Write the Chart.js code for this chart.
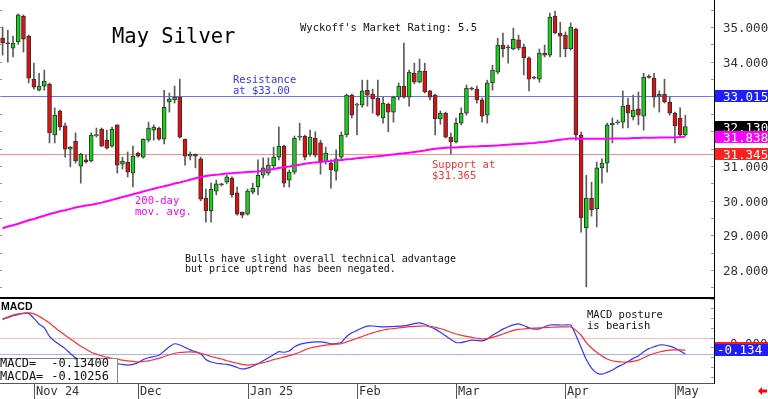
<!DOCTYPE html>
<html><head><meta charset="utf-8">
<script src="https://cdn.jsdelivr.net/npm/chart.js@4/dist/chart.umd.min.js"></script>
<style>
html,body{margin:0;padding:0;background:#fff;width:768px;height:399px;overflow:hidden;}
#wrap{position:relative;width:768px;height:399px;background:#fff;}
canvas{position:absolute;left:0;display:block;}
#main{top:0;}
#macd{top:297px;}
</style></head><body>
<div id="wrap"><canvas id="main" width="768" height="297"></canvas><canvas id="macd" width="768" height="102"></canvas></div>
<script>
// ---------- data ----------
const opens = [34.68,34.54,34.39,34.57,35.32,34.74,33.50,33.18,33.30,33.36,
31.89,32.58,32.15,31.48,31.71,30.99,31.17,31.14,31.86,32.06,
31.74,31.57,32.18,31.05,31.11,30.79,31.37,31.25,31.74,32.03,
32.09,31.77,32.84,32.90,32.98,31.77,31.28,31.34,31.20,30.07,
29.70,30.27,30.48,30.53,30.65,30.22,29.67,29.61,30.24,30.39,
30.73,30.79,31.00,31.25,31.57,30.59,30.82,31.83,31.86,31.34,
31.80,31.66,31.11,31.08,30.85,31.25,31.89,33.04,32.75,32.75,
33.18,33.07,32.95,32.38,32.78,32.55,32.98,33.30,32.98,33.67,
33.41,33.73,33.16,33.04,32.35,32.52,31.83,31.69,32.23,32.52,
33.24,33.21,32.90,32.46,33.39,33.70,34.48,34.42,34.37,34.63,
34.42,34.11,33.55,33.50,34.25,34.19,35.32,34.83,34.77,34.37,
34.94,31.89,29.21,30.07,29.76,30.94,31.08,32.18,32.24,32.26,
32.75,32.41,32.64,32.43,33.58,33.53,33.01,33.07,32.84,32.52,
32.38,31.89];
const highs = [35.00,34.91,34.74,35.38,35.35,34.77,33.96,33.67,33.76,33.39,
32.67,32.61,32.23,31.56,31.95,31.36,31.31,31.95,32.09,32.09,
32.03,32.12,32.18,31.25,31.40,31.57,31.40,31.78,32.26,32.18,
32.12,33.18,33.10,33.30,33.50,31.77,31.40,31.34,31.25,30.33,
30.50,30.59,30.50,30.73,30.68,30.39,29.67,30.33,30.50,31.17,
31.23,31.23,31.54,32.12,31.60,30.88,31.86,32.23,31.89,32.03,
31.98,31.74,31.54,31.17,31.46,31.98,33.07,33.07,32.81,33.47,
33.47,33.21,33.47,32.98,32.81,33.01,33.39,34.54,33.76,33.96,
34.08,33.96,33.18,33.07,32.58,32.55,31.95,32.38,32.67,33.33,
33.27,33.30,32.95,33.47,33.90,34.68,34.83,34.48,34.97,34.77,
34.51,34.14,33.58,34.37,34.48,35.40,35.46,35.14,34.86,35.12,
34.97,31.97,30.73,30.53,31.11,31.20,32.23,32.38,32.32,33.16,
32.95,33.04,33.13,33.67,33.62,33.67,33.16,33.50,32.98,32.55,
32.67,32.46];
const lows = [34.19,33.99,34.14,34.50,34.28,33.39,33.21,33.16,33.18,31.66,
31.66,32.03,31.25,30.97,31.08,30.50,31.08,31.11,31.83,31.55,
31.48,31.54,30.79,30.91,30.68,30.39,31.25,31.22,31.69,31.74,
31.74,31.63,32.55,32.81,31.80,31.02,31.17,30.94,29.99,29.38,
29.38,30.16,30.42,30.48,30.10,29.58,29.50,29.58,30.19,30.16,
30.65,30.73,30.94,31.17,30.39,30.39,30.76,31.74,31.17,31.28,
31.25,30.76,31.05,30.36,30.59,31.17,31.83,32.38,31.89,32.69,
32.72,32.52,32.43,32.23,31.98,32.26,32.90,32.95,32.72,33.36,
33.39,33.10,32.90,31.89,32.20,31.80,31.34,31.66,32.18,32.46,
33.18,32.81,32.26,32.23,33.18,33.65,34.14,33.96,34.34,34.34,
33.62,33.16,33.50,33.41,34.14,34.14,34.80,34.14,34.14,34.34,
31.74,29.09,27.51,29.55,29.24,30.50,30.82,31.66,32.20,32.09,
32.09,32.32,32.18,32.03,33.53,32.69,32.55,32.81,32.46,31.66,
31.86,31.86];
const closes = [34.54,34.52,34.54,35.35,34.65,33.53,33.27,33.30,33.44,31.95,
32.46,32.12,31.48,31.54,31.14,31.34,31.11,31.89,31.90,31.57,
31.51,32.06,31.02,31.14,30.82,31.28,31.28,31.77,32.09,32.12,
31.77,32.69,32.93,32.98,31.83,31.28,31.34,31.28,30.04,29.70,
30.33,30.48,30.45,30.68,30.16,29.61,29.58,30.27,30.36,30.73,
30.94,31.02,31.25,31.57,30.50,30.82,31.80,31.86,31.25,31.83,
31.31,31.11,31.37,30.88,31.20,31.89,33.04,32.46,32.78,33.16,
33.04,32.93,32.46,32.81,32.55,32.98,33.30,32.98,33.70,33.41,
33.73,33.13,32.98,32.35,32.52,31.83,31.69,32.23,32.52,33.24,
33.21,32.90,32.43,33.39,33.76,34.48,34.37,34.40,34.65,34.39,
34.11,33.50,33.53,34.25,34.19,35.29,34.83,34.74,34.37,35.00,
31.89,29.50,30.07,29.73,30.94,31.08,32.18,32.23,32.27,32.72,
32.52,32.61,32.46,33.56,33.55,32.98,33.07,32.84,32.52,32.15,
31.89,32.13];
const ma200 = [29.20,29.25,29.29,29.33,29.38,29.43,29.47,29.52,29.56,29.61,
29.65,29.69,29.72,29.76,29.80,29.83,29.86,29.88,29.91,29.94,
29.98,30.02,30.06,30.10,30.14,30.18,30.22,30.26,30.30,30.34,
30.38,30.41,30.45,30.49,30.52,30.56,30.60,30.64,30.68,30.71,
30.73,30.74,30.76,30.78,30.79,30.80,30.81,30.82,30.83,30.84,
30.86,30.89,30.91,30.94,30.96,30.98,31.01,31.03,31.06,31.08,
31.10,31.11,31.13,31.14,31.16,31.17,31.19,31.20,31.22,31.23,
31.25,31.26,31.28,31.29,31.31,31.33,31.35,31.36,31.38,31.40,
31.42,31.44,31.47,31.49,31.51,31.52,31.53,31.53,31.54,31.55,
31.56,31.56,31.57,31.57,31.58,31.59,31.60,31.61,31.62,31.63,
31.64,31.65,31.66,31.68,31.69,31.71,31.73,31.75,31.77,31.79,
31.79,31.78,31.78,31.78,31.78,31.78,31.78,31.79,31.79,31.79,
31.79,31.80,31.80,31.81,31.81,31.81,31.82,31.82,31.82,31.82,
31.83,31.838];
const macdLine = [0.150,0.165,0.180,0.190,0.200,0.200,0.160,0.110,0.080,0.010,
-0.030,-0.060,-0.090,-0.130,-0.165,-0.190,-0.220,-0.240,-0.250,-0.250,
-0.240,-0.225,-0.215,-0.220,-0.225,-0.220,-0.205,-0.180,-0.165,-0.155,
-0.145,-0.110,-0.075,-0.050,-0.060,-0.080,-0.100,-0.115,-0.130,-0.180,
-0.200,-0.210,-0.215,-0.220,-0.230,-0.245,-0.257,-0.250,-0.235,-0.215,
-0.190,-0.165,-0.140,-0.115,-0.120,-0.110,-0.075,-0.055,-0.045,-0.038,
-0.035,-0.035,-0.040,-0.050,-0.048,-0.040,0.010,0.040,0.060,0.080,
0.095,0.096,0.092,0.088,0.090,0.092,0.095,0.097,0.105,0.115,
0.121,0.110,0.090,0.070,0.045,0.015,-0.015,-0.040,-0.040,-0.030,
-0.020,-0.022,-0.027,-0.010,0.020,0.045,0.070,0.090,0.105,0.113,
0.100,0.080,0.070,0.072,0.090,0.104,0.105,0.104,0.104,0.104,
0.020,-0.080,-0.180,-0.250,-0.290,-0.300,-0.285,-0.265,-0.240,-0.220,
-0.195,-0.170,-0.150,-0.115,-0.090,-0.075,-0.060,-0.060,-0.070,-0.085,
-0.110,-0.134];
const macdAvg = [0.154,0.170,0.185,0.195,0.200,0.203,0.195,0.175,0.150,0.120,
0.085,0.050,0.020,-0.010,-0.040,-0.070,-0.095,-0.120,-0.135,-0.150,
-0.160,-0.170,-0.175,-0.185,-0.190,-0.195,-0.200,-0.195,-0.190,-0.180,
-0.170,-0.155,-0.140,-0.130,-0.122,-0.118,-0.117,-0.120,-0.130,-0.140,
-0.155,-0.165,-0.175,-0.190,-0.200,-0.210,-0.220,-0.225,-0.222,-0.215,
-0.205,-0.195,-0.180,-0.170,-0.160,-0.148,-0.135,-0.120,-0.100,-0.085,
-0.076,-0.068,-0.062,-0.057,-0.053,-0.050,-0.035,-0.020,-0.005,0.010,
0.025,0.040,0.052,0.063,0.070,0.075,0.080,0.085,0.090,0.093,
0.095,0.096,0.093,0.085,0.075,0.060,0.045,0.030,0.020,0.010,
0.003,-0.005,-0.011,-0.008,0.003,0.015,0.030,0.045,0.060,0.068,
0.072,0.075,0.078,0.080,0.083,0.085,0.087,0.088,0.088,0.088,
0.060,0.020,-0.040,-0.085,-0.120,-0.150,-0.175,-0.190,-0.197,-0.200,
-0.200,-0.195,-0.185,-0.165,-0.145,-0.130,-0.118,-0.108,-0.102,-0.100,
-0.101,-0.10256];
const monthTickIndex = [6,26,47,68,87,108,129];
const monthTickLabels = ["Nov 24","Dec","Jan 25","Feb","Mar","Apr","May"];
const priceTicks = [28,29,30,31,32,33,34,35];
const resistance = 33.015;
const support = 31.345;
const padSlots = 5;
const labels = closes.map((_, i) => 'd' + i).concat(Array.from({length: padSlots}, (_, k) => 'p' + k));

// ---------- helpers ----------
const MONO = '"DejaVu Sans Mono", monospace';
function hline(ctx, x0, x1, yy, color, w) {
  ctx.strokeStyle = color; ctx.lineWidth = w || 1;
  ctx.beginPath(); ctx.moveTo(x0, Math.round(yy) + 0.5); ctx.lineTo(x1, Math.round(yy) + 0.5); ctx.stroke();
}
function txt(ctx, s, x, y, font, color, align) {
  ctx.font = font; ctx.fillStyle = color; ctx.textAlign = align || 'left'; ctx.textBaseline = 'alphabetic';
  ctx.fillText(s, x, y);
}

const bodies = opens.map((o, i) => [o, closes[i]]);
const wicks = lows.map((l, i) => [l, highs[i]]);
const bodyColors = opens.map((o, i) => closes[i] >= o ? '#14d214' : '#e01010');

const mainDeco = {
  id: 'mainDeco',
  beforeDatasetsDraw(chart) {
    const {ctx, chartArea: a, scales: {y}} = chart;
    ctx.save();
    hline(ctx, a.left, a.right, y.getPixelForValue(resistance), '#6e6eff');
    hline(ctx, a.left, a.right, y.getPixelForValue(support), '#ff8888');
    ctx.restore();
  },
  afterDraw(chart) {
    const {ctx, chartArea: a, scales: {y}} = chart;
    ctx.save();
    // axis line
    ctx.fillStyle = '#000'; ctx.fillRect(a.right, 0, 1, a.bottom);
    // minor ticks
    ctx.fillStyle = '#999';
    for (let v = 27.5; v <= 35.6; v += 0.5) {
      const yy = Math.round(y.getPixelForValue(v));
      ctx.fillRect(a.right - 3, yy, 3, 1);
      ctx.fillRect(0, yy, 2, 1);
    }
    // tick labels
    priceTicks.forEach(v => {
      txt(ctx, v.toFixed(3), a.right + 9, y.getPixelForValue(v) + 5, '12.5px ' + MONO, '#333');
    });
    // value boxes
    const boxes = [
      {v: resistance, bg: '#1e1eff'},
      {v: closes[closes.length - 1], bg: '#000'},
      {v: ma200[ma200.length - 1], bg: '#ff00ff'},
      {v: support, bg: '#ff2020'}
    ];
    boxes.forEach(b => {
      const yy = Math.round(y.getPixelForValue(b.v));
      ctx.fillStyle = b.bg; ctx.fillRect(a.right + 1, yy - 6, 768 - a.right - 1, 12);
      txt(ctx, b.v.toFixed(3), a.right + 9, yy + 5, '12.5px ' + MONO, '#fff');
    });
    // annotations
    txt(ctx, 'May Silver', 112, 43, '20.5px ' + MONO, '#000');
    txt(ctx, "Wyckoff's Market Rating: 5.5", 300, 31, '10.5px ' + MONO, '#111');
    const ry = y.getPixelForValue(resistance);
    txt(ctx, 'Resistance', 233, ry - 13, '10.5px ' + MONO, '#3434ff');
    txt(ctx, 'at $33.00', 233, ry - 2, '10.5px ' + MONO, '#3434ff');
    const sy = y.getPixelForValue(support);
    txt(ctx, 'Support at', 432, sy + 14, '10.5px ' + MONO, '#ff3030');
    txt(ctx, '$31.365', 432, sy + 25, '10.5px ' + MONO, '#ff3030');
    txt(ctx, '200-day', 135, 204, '10.5px ' + MONO, '#ff00ff');
    txt(ctx, 'mov. avg.', 135, 215, '10.5px ' + MONO, '#ff00ff');
    txt(ctx, 'Bulls have slight overall technical advantage', 185, 262, '10px ' + MONO, '#111');
    txt(ctx, 'but price uptrend has been negated.', 185, 272, '10px ' + MONO, '#111');
    ctx.restore();
  }
};

new Chart(document.getElementById('main'), {
  type: 'bar',
  data: {
    labels: labels,
    datasets: [
      {type: 'line', data: ma200, borderColor: '#ff00ff', borderWidth: 2, pointRadius: 0, tension: 0, order: 0},
      {type: 'bar', data: bodies, backgroundColor: bodyColors, borderColor: '#303030', borderWidth: 1,
       borderSkipped: false, barThickness: 4, grouped: false, minBarLength: 1, order: 1},
      {type: 'bar', data: wicks, backgroundColor: '#5c5c5c', barThickness: 1, grouped: false, order: 2}
    ]
  },
  options: {
    responsive: false, animation: false, devicePixelRatio: 1,
    layout: {padding: {left: 0, right: 54, top: 0, bottom: 0}},
    plugins: {legend: {display: false}, tooltip: {enabled: false}},
    scales: {
      x: {display: false, offset: true},
      y: {display: false, min: 27.22, max: 35.78}
    }
  },
  plugins: [mainDeco]
});

const macdDeco = {
  id: 'macdDeco',
  beforeDatasetsDraw(chart) {
    const {ctx, chartArea: a, scales: {y}} = chart;
    ctx.save();
    hline(ctx, a.left, a.right, y.getPixelForValue(0), '#ffbcbc');
    hline(ctx, a.left, a.right, y.getPixelForValue(macdLine[macdLine.length - 1]), '#aab0ff');
    ctx.restore();
  },
  afterDraw(chart) {
    const {ctx, chartArea: a, scales: {x, y}} = chart;
    const H = chart.height;
    ctx.save();
    ctx.fillStyle = '#000'; ctx.fillRect(0, 0, a.right, 2);
    ctx.fillStyle = '#555'; ctx.fillRect(0, a.bottom, a.right + 1, 1);
    ctx.fillStyle = '#000'; ctx.fillRect(a.right, 0, 1, a.bottom + 1);
    ctx.fillStyle = '#999';
    for (let v = -0.32; v <= 0.33; v += 0.08) {
      ctx.fillRect(a.right - 3, Math.round(y.getPixelForValue(v)), 3, 1);
    }
    txt(ctx, 'MACD', 1, 13, 'bold 10.5px "Liberation Sans", Arial, sans-serif', '#000');
    // info box
    ctx.fillStyle = '#fff'; ctx.fillRect(0, 61, 117, a.bottom - 61);
    ctx.fillStyle = '#888'; ctx.fillRect(0, 61, 118, 1); ctx.fillRect(117, 61, 1, a.bottom - 61);
    const f12 = '12px ' + MONO;
    txt(ctx, 'MACD=', 0, 70, f12, '#111');
    txt(ctx, macdLine[macdLine.length - 1].toFixed(5), 109, 70, f12, '#111', 'right');
    txt(ctx, 'MACDA=', 0, 83, f12, '#111');
    txt(ctx, macdAvg[macdAvg.length - 1].toFixed(5), 109, 83, f12, '#111', 'right');
    txt(ctx, 'MACD posture', 587, 21, '10.5px ' + MONO, '#111');
    txt(ctx, 'is bearish', 587, 32, '10.5px ' + MONO, '#111');
    // right labels
    const lastM = macdLine[macdLine.length - 1];
    const by = Math.round(y.getPixelForValue(lastM)) - 10;
    txt(ctx, (0).toFixed(3), a.right + 16, by + 4, '12.5px ' + MONO, '#333');
    ctx.fillStyle = '#ff1a1a'; ctx.fillRect(a.right + 1, by - 2, 768 - a.right - 1, 2);
    ctx.fillStyle = '#1e1eff'; ctx.fillRect(a.right + 1, by, 768 - a.right - 1, 12);
    txt(ctx, lastM.toFixed(3), a.right + 3, by + 10, '12.5px ' + MONO, '#fff');
    // month labels
    monthTickIndex.forEach((idx, k) => {
      const xx = Math.round(x.getPixelForValue(idx));
      ctx.fillStyle = '#555'; ctx.fillRect(xx, a.bottom + 1, 1, H - a.bottom - 1);
      txt(ctx, monthTickLabels[k], xx + 2, 98, '12px ' + MONO, '#333');
    });
    // arrow
    ctx.fillStyle = '#ff0000';
    ctx.beginPath();
    ctx.moveTo(758, 94); ctx.lineTo(762, 90); ctx.lineTo(762, 92.5); ctx.lineTo(767, 92.5);
    ctx.lineTo(767, 95.5); ctx.lineTo(762, 95.5); ctx.lineTo(762, 98); ctx.closePath(); ctx.fill();
    ctx.restore();
  }
};

new Chart(document.getElementById('macd'), {
  type: 'line',
  data: {
    labels: labels,
    datasets: [
      {data: macdLine, borderColor: '#3434ff', borderWidth: 1.2, pointRadius: 0, tension: 0.2, order: 1},
      {data: macdAvg, borderColor: '#ff3030', borderWidth: 1.2, pointRadius: 0, tension: 0.3, order: 0}
    ]
  },
  options: {
    responsive: false, animation: false, devicePixelRatio: 1,
    layout: {padding: {left: 0, right: 54, top: 1, bottom: 16}},
    plugins: {legend: {display: false}, tooltip: {enabled: false}},
    scales: {
      x: {display: false, offset: true},
      y: {display: false, min: -0.3725, max: 0.326}
    }
  },
  plugins: [macdDeco]
});
</script>
</body></html>
